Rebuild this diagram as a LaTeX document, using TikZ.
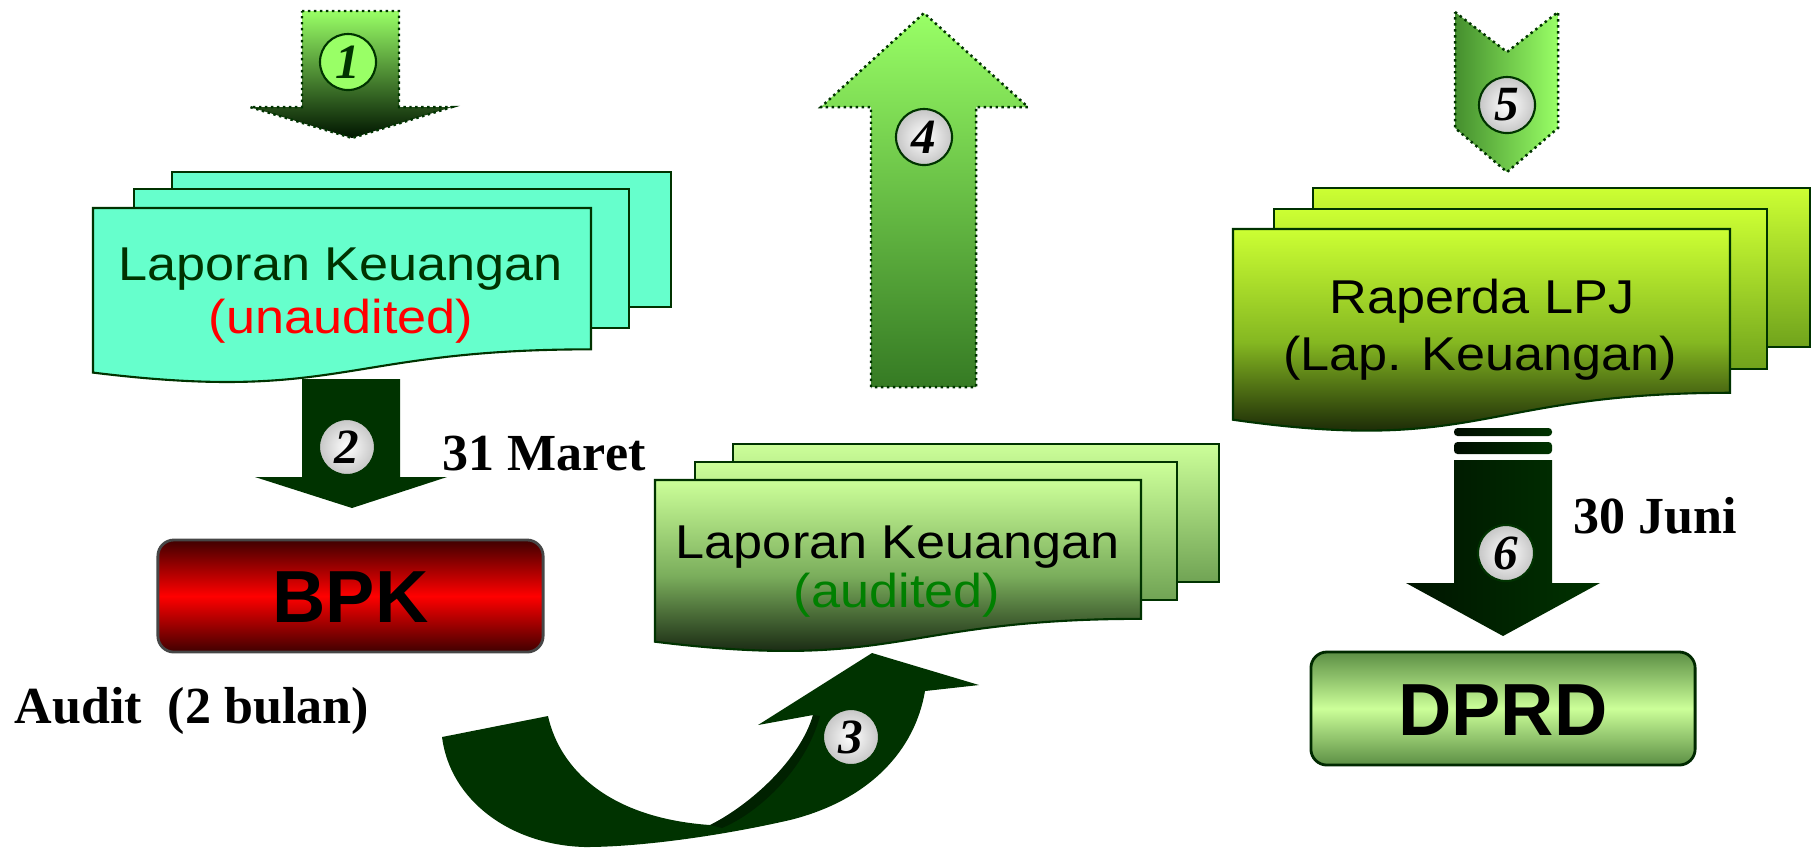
\documentclass[tikz,border=0pt]{standalone}
\usepackage{fontspec}
\setmainfont{Liberation Serif}
\newfontfamily\labelsans{Liberation Sans}
\newfontfamily\docsans[FakeStretch=1.1]{Liberation Sans}
\definecolor{darkgr}{HTML}{003300}
\definecolor{lightgr}{HTML}{99FF66}
\definecolor{mint}{HTML}{66FFCC}
\definecolor{paleg}{HTML}{CCFF99}
\definecolor{lime}{HTML}{CCFF33}
\definecolor{auditgr}{HTML}{008000}

% front sheet of a document stack with a wavy lower edge
% #1 style, #2 left, #3 top, #4 right, #5 height
\newcommand\frontsheet[5]{%
  \path[#1] (#2,#3) -- (#4,#3) -- (#4,{#3+0.802*#5})
    .. controls ({(#2+#4)/2},{#3+0.802*#5}) and ({(#2+#4)/2},{#3+1.1075*#5}) ..
    (#2,{#3+0.934*#5}) -- cycle;}

\begin{document}
\begin{tikzpicture}[x=0.01cm,y=-0.01cm,
  sheetline/.style={draw=darkgr,line width=0.6pt},
  mintsheet/.style={sheetline,fill=mint},
  greenback/.style={sheetline,top color=paleg,bottom color=paleg!55!darkgr},
  greenfront/.style={sheetline,top color=paleg,bottom color=black!85!darkgr,middle color=paleg!60!darkgr},
  limeback/.style={sheetline,top color=lime,bottom color=lime!55!darkgr},
  limefront/.style={sheetline,top color=lime,bottom color=black!90!darkgr,middle color=lime!65!darkgr},
  doctext/.style={font=\docsans\fontsize{13.5}{16}\selectfont,anchor=base,inner sep=0pt},
  datetext/.style={font=\fontsize{14.8}{17}\selectfont\bfseries,anchor=base west,inner sep=0pt},
  dotedge/.style={draw=darkgr,densely dotted,line width=0.7pt},
  numbase/.style={circle,minimum size=0.56cm,inner sep=0pt,draw=darkgr,line width=0.6pt,
    font=\fontsize{14}{14}\selectfont\bfseries\itshape},
  numball/.style={numbase,inner color=white,outer color=gray!45},
  boxlabel/.style={rounded corners=0.16cm,line width=0.8pt,
    font=\labelsans\fontsize{21}{21}\selectfont\bfseries,text height=0.53cm,text depth=0pt}
]
\useasboundingbox (0,0) rectangle (1813,847);

% ---- step 1: arrow into the unaudited report
\path[dotedge,top color=lightgr,middle color=lightgr!70!darkgr,bottom color=black!60!darkgr]
  (302,11) -- (399,11) -- (399,107) -- (452,107) -- (352,138) -- (250,107) -- (302,107) -- cycle;
\node[numbase,fill=lightgr,text=darkgr] (n1) at (348,62) {1};

% ---- unaudited report stack
\path[mintsheet] (172,172) rectangle (671,307);
\path[mintsheet] (134,189) rectangle (629,328);
\frontsheet{mintsheet}{93}{208}{591}{176.2}
\node[doctext,text=darkgr] (lk1) at (341,280) {Laporan Keuangan};
\node[doctext,text=red] (ua) at (341,333) {(unaudited)};

% ---- step 2: arrow to BPK
\path[fill=darkgr] (302,379) -- (400,379) -- (400,477) -- (447,477) -- (352,508) -- (255,477) -- (302,477) -- cycle;
\node[numball] (n2) at (347,447) {2};
\node[datetext] (maret) at (442,470) {31 Maret};

% ---- BPK box
\node[boxlabel,draw=gray!55!black,minimum width=3.85cm,minimum height=1.12cm,
  top color=red!25!black,bottom color=red!25!black,middle color=red] (bpk) at (350.5,596) {BPK};
\node[datetext] (audit) at (14,723) {Audit\ \ (2 bulan)};

% ---- step 3: curved ribbon arrow
\path[fill=darkgr]
  (442,737) -- (548,716)
  .. controls (560,770) and (610,818) .. (710,825)
  .. controls (750,805) and (800,760) .. (813,715)
  -- (758,725) -- (872,653) -- (979,685) -- (925,691)
  .. controls (915,750) and (870,800) .. (790,820)
  .. controls (720,836) and (640,847) .. (585,847)
  .. controls (510,845) and (450,800) .. (442,737) -- cycle;
\path[fill=black,opacity=0.35]
  (710,825) .. controls (750,805) and (800,760) .. (813,715)
  -- (820,716) .. controls (806,768) and (760,812) .. (722,828) -- cycle;
\node[numball] (n3) at (851,737) {3};

% ---- audited report stack
\path[greenback] (733,444) rectangle (1219,582);
\path[greenback] (695,462) rectangle (1177,600);
\frontsheet{greenfront}{655}{480}{1141}{173.1}
\node[doctext] (lk2) at (898,558) {Laporan Keuangan};
\node[doctext,text=auditgr] (au) at (897,607) {(audited)};

% ---- step 4: upward arrow
\path[dotedge,top color=lightgr,bottom color=lightgr!35!darkgr]
  (871,387) -- (871,107) -- (821,107) -- (924,13) -- (1028,107) -- (976,107) -- (976,387) -- cycle;
\node[numball] (n4) at (924,137) {4};

% ---- step 5: chevron into the Raperda stack
\path[dotedge,left color=lightgr!45!darkgr,right color=lightgr]
  (1455,12) -- (1507,52) -- (1558,12) -- (1558,128) -- (1507,172) -- (1455,128) -- cycle;
\node[numball] (n5) at (1507,105) {5};

% ---- Raperda stack
\path[limeback] (1313,188) rectangle (1810,347);
\path[limeback] (1274,209) rectangle (1767,369);
\frontsheet{limefront}{1233}{229}{1730}{204.2}
\node[doctext] (rap) at (1482,313) {Raperda LPJ};
\node[doctext] (lap) at (1480,370) {(Lap. Keuangan)};

% ---- step 6: arrow to DPRD
\path[left color=black!75!darkgr,right color=darkgr,rounded corners=1pt] (1454,428) rectangle (1552,436);
\path[left color=black!75!darkgr,right color=darkgr,rounded corners=1pt] (1454,442) rectangle (1552,454);
\path[left color=black!60!darkgr,right color=darkgr]
  (1454,460) -- (1552,460) -- (1552,583) -- (1600,583) -- (1503,636) -- (1406,583) -- (1454,583) -- cycle;
\node[numball] (n6) at (1506,553) {6};
\node[datetext] (juni) at (1573,533) {30 Juni};

% ---- DPRD box
\node[boxlabel,draw=darkgr!80!black,minimum width=3.84cm,minimum height=1.13cm,
  top color=paleg!45!darkgr,bottom color=paleg!45!darkgr,middle color=paleg] (dprd) at (1503,708.5) {DPRD};
\end{tikzpicture}
\end{document}
